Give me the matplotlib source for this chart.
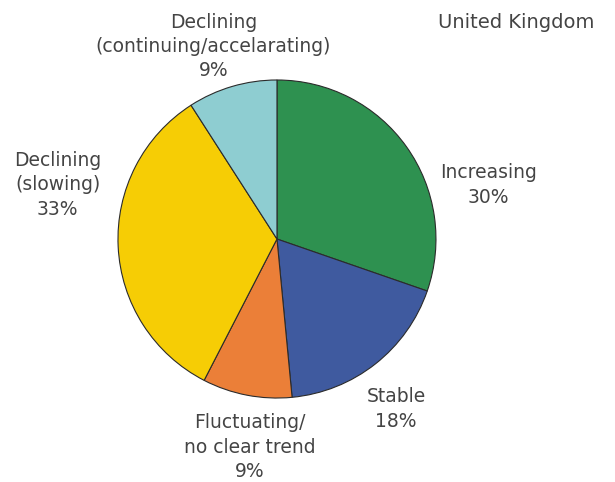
import matplotlib.pyplot as plt

labels = ['Increasing', 'Stable', 'Fluctuating/\nno clear trend',
          'Declining\n(slowing)', 'Declining\n(continuing/accelarating)']
shares = [30, 18, 9, 33, 9]
colors = ['#2e9150', '#3f5a9f', '#eb7f38', '#f6cd05', '#8ecdd1']

# label centres in data units (pie radius = 1)
label_pos = [(1.33, 0.34), (0.75, -1.07), (-0.17, -1.31), (-1.38, 0.34), (-0.40, 1.21)]

fig = plt.figure(figsize=(6.15, 4.82), dpi=100)
ax = fig.add_axes([0, 0, 1, 1])
ax.pie(shares, colors=colors, startangle=90, counterclock=False,
       wedgeprops=dict(edgecolor='#2b2b2b', linewidth=0.8))
ax.set_xlim(-1.742, 2.126)
ax.set_ylim(-1.528, 1.503)
ax.set_aspect('auto')
ax.axis('off')

for lab, val, (x, y) in zip(labels, shares, label_pos):
    ax.text(x, y, f'{lab}\n{val}%', ha='center', va='center', fontsize=13.5,
            color='#444444', linespacing=1.36)

fig.text(0.84, 0.954, 'United Kingdom', ha='center', va='center',
         fontsize=14, color='#444444')

fig.savefig('out.png', dpi=100)
